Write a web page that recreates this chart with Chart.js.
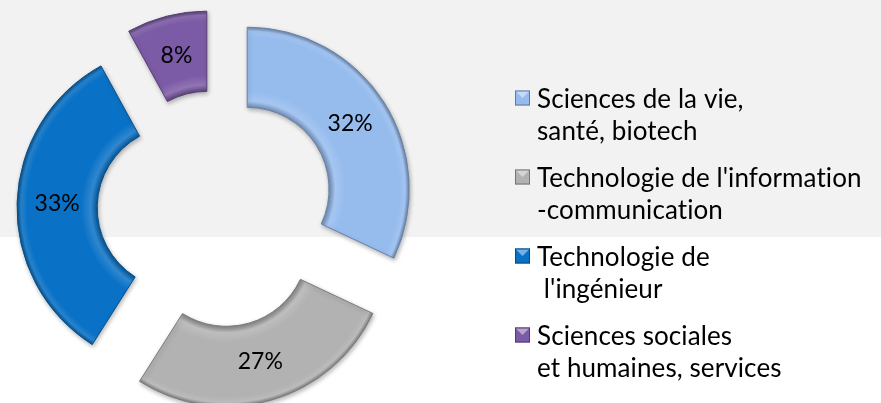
<!DOCTYPE html>
<html>
<head>
<meta charset="utf-8">
<script src="https://cdn.jsdelivr.net/npm/chart.js@4"></script>
<style>
html, body { margin: 0; padding: 0; background: #fff; }
#wrap { width: 881px; height: 403px; }
</style>
</head>
<body>
<div id="wrap"><canvas id="myChart" width="881" height="403"></canvas></div>
<script>
var categories = ["Sciences de la vie, santé, biotech", "Technologie de l'information-communication", "Technologie de l'ingénieur", "Sciences sociales et humaines, services"];
var legendLines = [["Sciences de la vie,", "santé, biotech"], ["Technologie de l'information", "-communication"], ["Technologie de", " l'ingénieur"], ["Sciences sociales", "et humaines, services"]];
var shares = [32, 27, 33, 8];
var sliceColors = ["#96bcee", "#b2b2b2", "#0a72c6", "#7c5ba6"];

var outerR = 162;      // px
var cutoutPct = 50.5;  // %
var explode = 37;      // px, slice pull-out
var fontFamily = "Lato, 'Open Sans', sans-serif";

// lighten (amt>0) or darken (amt<0) a hex colour
function shade(hex, amt) {
    var n = parseInt(hex.slice(1), 16);
    var r = n >> 16, g = (n >> 8) & 255, b = n & 255;
    function f(c) {
        var v = amt < 0 ? c * (1 + amt) : c + (255 - c) * amt;
        return Math.round(Math.max(0, Math.min(255, v)));
    }
    return 'rgb(' + f(r) + ',' + f(g) + ',' + f(b) + ')';
}

function sliceFill(context) {
    var chart = context.chart;
    var area = chart.chartArea;
    var base = sliceColors[context.dataIndex];
    if (!area) return base;
    var cx = (area.left + area.right) / 2;
    var cy = (area.top + area.bottom) / 2;
    var ri = outerR * cutoutPct / 100;
    var g = chart.ctx.createRadialGradient(cx, cy, ri, cx, cy, outerR);
    g.addColorStop(0, shade(base, -0.25));
    g.addColorStop(0.08, shade(base, 0.15));
    g.addColorStop(0.2, base);
    g.addColorStop(0.88, base);
    g.addColorStop(0.95, shade(base, 0.12));
    g.addColorStop(1, shade(base, -0.3));
    return g;
}

function noLigatures(ctx) {
    ctx.textRendering = 'optimizeSpeed';
    ctx.letterSpacing = '0.1px';
}

// grey band behind the top part
var backgroundPlugin = {
    id: 'bgBand',
    beforeDraw: function (chart) {
        var ctx = chart.ctx;
        ctx.save();
        ctx.fillStyle = '#ffffff';
        ctx.fillRect(0, 0, chart.width, chart.height);
        ctx.fillStyle = '#f2f2f2';
        ctx.fillRect(0, 0, chart.width, 237);
        ctx.restore();
    }
};

// draw every slice pulled out along its mid angle
var explodePlugin = {
    id: 'explode',
    beforeDatasetsDraw: function (chart) {
        var ctx = chart.ctx;
        var meta = chart.getDatasetMeta(0);
        meta.data.forEach(function (arc) {
            var mid = (arc.startAngle + arc.endAngle) / 2;
            ctx.save();
            ctx.shadowColor = 'rgba(0,0,0,0.28)';
            ctx.shadowBlur = 4;
            ctx.shadowOffsetX = 1;
            ctx.shadowOffsetY = 2;
            ctx.translate(Math.cos(mid) * explode, Math.sin(mid) * explode);
            arc.draw(ctx);
            ctx.restore();
        });
        return false; // default drawing skipped
    }
};

// percentages in the middle of each slice
var pctLabelPlugin = {
    id: 'pctLabels',
    afterDraw: function (chart) {
        var ctx = chart.ctx;
        var meta = chart.getDatasetMeta(0);
        ctx.save();
        noLigatures(ctx);
        ctx.fillStyle = '#000';
        ctx.font = '23px ' + fontFamily;
        ctx.textAlign = 'center';
        ctx.textBaseline = 'middle';
        meta.data.forEach(function (arc, i) {
            var mid = (arc.startAngle + arc.endAngle) / 2;
            var rr = explode + (arc.innerRadius + arc.outerRadius) / 2;
            ctx.fillText(shares[i] + '%', arc.x + Math.cos(mid) * rr, arc.y + Math.sin(mid) * rr);
        });
        ctx.restore();
    }
};

var legendPlugin = {
    id: 'sideLegend',
    afterDraw: function (chart) {
        var ctx = chart.ctx;
        var x0 = 515, textX = 537, y0 = 100, lineH = 32, entryH = 79, box = 15;
        ctx.save();
        noLigatures(ctx);
        ctx.font = '26px ' + fontFamily;
        ctx.textBaseline = 'middle';
        ctx.textAlign = 'left';
        legendLines.forEach(function (lines, i) {
            var y = y0 + i * entryH;
            var bx = x0, by = y - 2 - box / 2;
            var base = sliceColors[i];
            ctx.fillStyle = base;
            ctx.fillRect(bx, by, box, box);
            // bevel: light top face
            ctx.fillStyle = shade(base, 0.45);
            ctx.beginPath();
            ctx.moveTo(bx, by);
            ctx.lineTo(bx + box, by);
            ctx.lineTo(bx + box / 2, by + box / 2);
            ctx.closePath();
            ctx.fill();
            ctx.strokeStyle = shade(base, -0.35);
            ctx.lineWidth = 1;
            ctx.strokeRect(bx + 0.5, by + 0.5, box - 1, box - 1);
            ctx.fillStyle = '#000';
            lines.forEach(function (t, k) {
                ctx.fillText(t, textX, y + k * lineH);
            });
        });
        ctx.restore();
    }
};

var ctx = document.getElementById('myChart').getContext('2d');
var myChart = new Chart(ctx, {
    type: 'doughnut',
    data: {
        labels: categories,
        datasets: [{
            data: shares,
            backgroundColor: sliceFill,
            borderColor: sliceColors.map(function (c) { return shade(c, -0.3); }),
            borderWidth: 1
        }]
    },
    options: {
        responsive: false,
        animation: false,
        radius: outerR,
        cutout: cutoutPct + '%',
        layout: { padding: { left: 0, right: 449, top: 15, bottom: 0 } },
        plugins: {
            legend: { display: false },
            tooltip: { enabled: false }
        }
    },
    plugins: [backgroundPlugin, explodePlugin, pctLabelPlugin, legendPlugin]
});
</script>
</body>
</html>
